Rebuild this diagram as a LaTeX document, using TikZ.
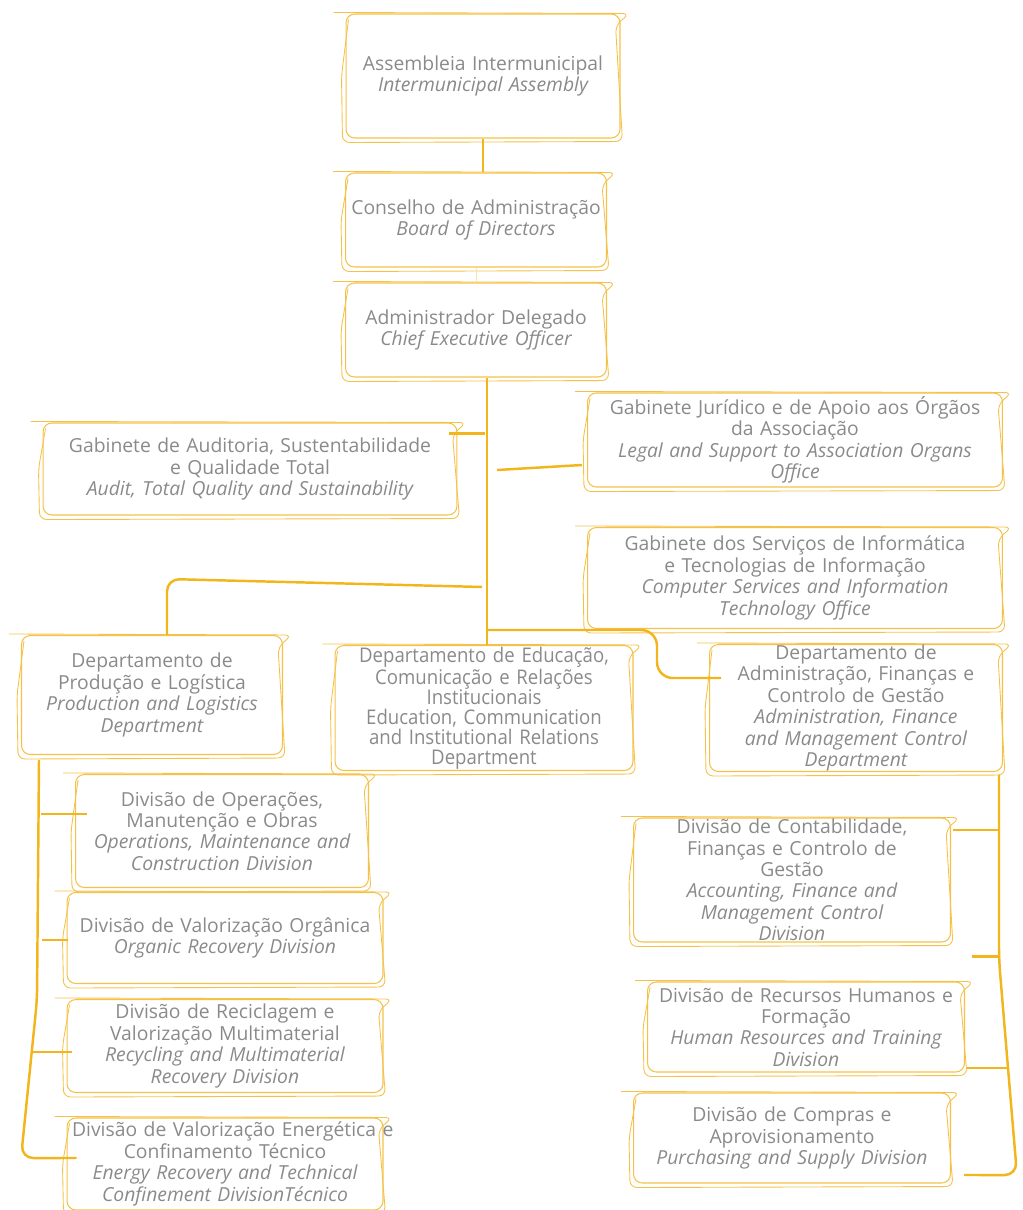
\documentclass[tikz,border=0pt]{standalone}
\usepackage{fontspec}
\setmainfont{Open Sans}
\newfontfamily\narrowfont[FakeStretch=0.92]{Open Sans}
\usetikzlibrary{positioning, calc}
\definecolor{linkyellow}{HTML}{F2B51B}
\definecolor{boxyellow}{HTML}{F4C24A}
\definecolor{textgray}{HTML}{8A8A8A}
\tikzset{
    unit/.style={
        rectangle, rounded corners=5pt, draw=boxyellow, line width=0.6pt,
        align=center, inner xsep=0.1cm, inner ysep=0pt, text=textgray,
        font=\fontsize{11}{12.2}\selectfont
    },
    sketch/.style={draw=boxyellow, line width=0.5pt, rounded corners=4pt},
    link/.style={draw=linkyellow, line width=1.4pt, rounded corners=7pt},
    faint/.style={draw=linkyellow!35, line width=0.5pt}
}

\begin{document}
\begin{tikzpicture}[x=0.02cm, y=-0.02cm]
\useasboundingbox (0,0) rectangle (1022,1210);

% === TOP ===
\node (assembly) [unit, text width=5.28cm, minimum height=2.48cm] at (483,76) {Assembleia Intermunicipal\\{\itshape Intermunicipal Assembly}};
\node (board)    [unit, text width=5.02cm, minimum height=1.88cm] at (476,220) {\mbox{Conselho de Administração}\\{\itshape Board of Directors}};
\node (ceo)      [unit, text width=5.02cm, minimum height=1.88cm] at (476,330) {Administrador Delegado\\{\itshape Chief Executive Officer}};

% === OFFICES ===
\node (audit) [unit, text width=8.08cm, minimum height=1.84cm] at (250,469) {Gabinete de Auditoria, Sustentabilidade\\e Qualidade Total\\{\itshape Audit, Total Quality and Sustainability}};
\node (legal) [unit, text width=8.10cm, minimum height=1.88cm] at (795,440) {Gabinete Jurídico e de Apoio aos Órgãos\\da Associação\\{\itshape Legal and Support to Association Organs\\Office}};
\node (it)    [unit, text width=8.10cm, minimum height=2.02cm] at (795,578) {Gabinete dos Serviços de Informática\\e Tecnologias de Informação\\{\itshape Computer Services and Information\\Technology Office}};

% === DEPARTMENTS ===
\node (prod)  [unit, text width=5.02cm, minimum height=2.38cm] at (152,695) {Departamento de\\Produção e Logística\\{\itshape Production and Logistics\\Department}};
\node (edu)   [unit, text width=5.76cm, minimum height=2.50cm, font=\narrowfont\fontsize{11.5}{11.4}\selectfont] at (484,708) {Departamento de Educação,\\Comunicação e Relações\\Institucionais\\Education, Communication\\and Institutional Relations\\Department};
\node (admin) [unit, text width=5.66cm, minimum height=2.54cm] at (856,708) {Departamento de\\Administração, Finanças e\\Controlo de Gestão\\{\itshape Administration, Finance\\and Management Control\\Department}};

% === PRODUCTION DIVISIONS ===
\node (ops)     [unit, text width=5.66cm, minimum height=2.26cm] at (222,831) {Divisão de Operações,\\Manutenção e Obras\\{\itshape Operations, Maintenance and\\Construction Division}};
\node (organic) [unit, text width=6.12cm, minimum height=1.82cm] at (225,938) {\mbox{Divisão de Valorização Orgânica}\\{\itshape Organic Recovery Division}};
\node (recyc)   [unit, text width=6.12cm, minimum height=1.86cm] at (225,1046) {Divisão de Reciclagem e\\Valorização Multimaterial\\{\itshape Recycling and Multimaterial\\Recovery Division}};
\node (energy)  [unit, text width=6.12cm, minimum height=1.84cm] at (225,1164) {\mbox{Divisão de Valorização Energética e}\\Confinamento Técnico\\{\itshape \mbox{Energy Recovery and Technical}\\Confinement DivisionTécnico}};

% === ADMINISTRATION DIVISIONS ===
\node (account) [unit, text width=6.14cm, minimum height=2.48cm] at (792,880) {Divisão de Contabilidade,\\Finanças e Controlo de\\Gestão\\{\itshape Accounting, Finance and\\Management Control\\Division}};
\node (hr)      [unit, text width=6.14cm, minimum height=1.80cm] at (806,1027) {\mbox{Divisão de Recursos Humanos e}\\Formação\\{\itshape \mbox{Human Resources and Training}\\Division}};
\node (purch)   [unit, text width=6.14cm, minimum height=1.80cm] at (792,1138) {Divisão de Compras e\\Aprovisionamento\\{\itshape \mbox{Purchasing and Supply Division}}};

% second pencil stroke round every box
\foreach \n in {assembly,board,ceo,audit,legal,it,prod,edu,admin,ops,organic,recyc,energy,account,hr,purch}{
    \draw[sketch] ([shift={(-12,-1)}]\n.north west) -- ([shift={(9,0)}]\n.north east)
        -- ([shift={(-5,12)}]\n.north east) -- ([shift={(2,3)}]\n.south east)
        -- ([shift={(-3,4)}]\n.south west) -- ([shift={(-4,0)}]\n.west)
        -- ([shift={(3,6)}]\n.north west);
}

% === CONNECTORS ===
\coordinate (fork) at (487,630);
\draw [link] (assembly.south) -- (assembly.south |- board.north);
\draw [faint] (board.south) -- (ceo.north);
\draw [link] (ceo.south -| fork) -- (fork |- edu.north);

\draw [link] ([shift={(-8,11)}]audit.north east) -- ++(36,0);
\draw [link] ([shift={(-5,25)}]legal.west) -- ++(-85,5);
\draw [link] ([shift={(15,0)}]prod.north) -- ++(0,-56) -- ++(315,8);
\draw [link, rounded corners=9pt] (fork) -- ++(170,0) |- ([shift={(12,-30)}]admin.west);

% production divisions
\coordinate (lbar) at ([shift={(18,5)}]prod.south west);
\draw [link] (lbar) -- ++(-2,240) -- ++(-16,158) -- ([shift={(10,-6)}]energy.west);
\draw [link] ([shift={(12,-17)}]ops.west) -- ++(-46,0);
\draw [link] ([shift={(1,2)}]organic.west) -- ++(-26,0);
\draw [link] ([shift={(5,6)}]recyc.west) -- ++(-40,0);

% administration divisions
\coordinate (rbar) at ([shift={(-4,3)}]admin.south east);
\draw [link] (rbar) -- ++(0,185) -- ++(9,108) -- ++(9,107) -- ([shift={(13,37)}]purch.east);
\draw [link] ([shift={(2,-50)}]account.east) -- ++(45,0);
\draw [link] ([shift={(21,14)}]account.south east) -- ++(27,0);
\draw [link] ([shift={(2,41)}]hr.east) -- ++(41,0);

\end{tikzpicture}
\end{document}
